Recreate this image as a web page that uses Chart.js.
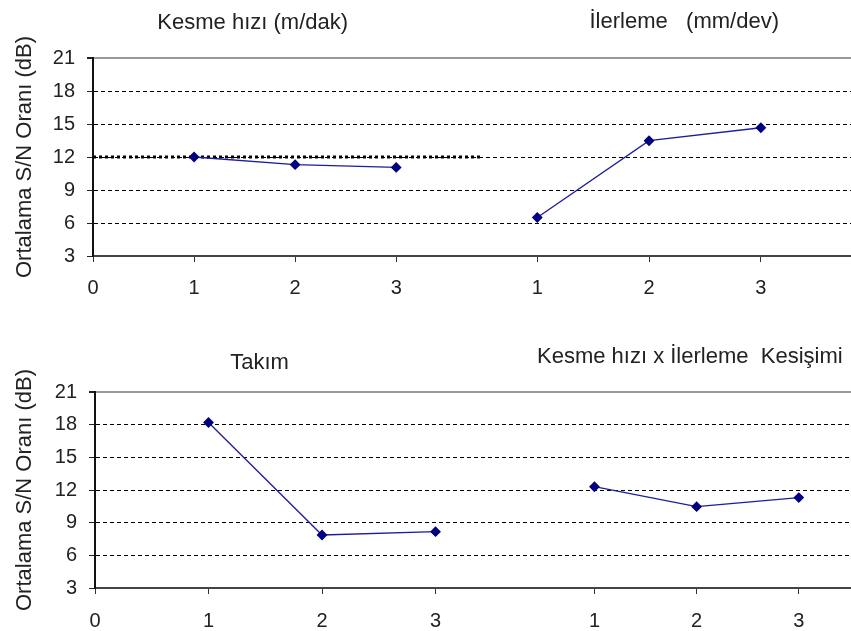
<!DOCTYPE html>
<html>
<head>
<meta charset="utf-8">
<script src="https://cdn.jsdelivr.net/npm/chart.js@4.4.1/dist/chart.umd.min.js"></script>
<style>
  html, body { margin: 0; padding: 0; background: #fff; }
  #wrap { position: relative; width: 851px; height: 631px; }
  canvas { position: absolute; left: 0; }
  #top { top: 0; }
  #bottom { top: 318px; }
</style>
</head>
<body>
<div id="wrap">
  <canvas id="top" width="851" height="318"></canvas>
  <canvas id="bottom" width="851" height="313"></canvas>
</div>
<script>
// factor levels and tick labels
const levels = [1, 2, 3];
const xTickLabels = ['0', '1', '2', '3', '1', '2', '3'];
const yTicks = [3, 6, 9, 12, 15, 18, 21];

// mean S/N ratios (dB)
const kesmeHizi = [12.0, 11.3, 11.05];
const ilerleme = [6.5, 13.48, 14.66];
const takim = [18.2, 7.87, 8.17];
const kesisim = [12.3, 10.47, 11.3];

// dotted reference at 12 dB in the top panel
const refLineX = [0, 3.83];
const refLineY = [12, 12];

const yTitle = 'Ortalama S/N Oranı (dB)';
const navy = '#000080';
const fontName = "'Liberation Sans', Arial, sans-serif";

function seriesPoints(xs, ys) {
    return xs.map((x, i) => ({ x: x, y: ys[i] }));
}

// draws the two panel titles above the plot area
const panelTitles = {
    id: 'panelTitles',
    afterDraw(chart, args, opts) {
        const ctx = chart.ctx;
        const xScale = chart.scales.x;
        ctx.save();
        ctx.fillStyle = '#222';
        ctx.font = '22px ' + fontName;
        ctx.textAlign = 'center';
        ctx.textBaseline = 'middle';
        opts.items.forEach(t => {
            ctx.fillText(t.text, xScale.getPixelForValue(t.at), t.y);
        });
        ctx.restore();
    }
};

function makePanel(canvasId, p) {
    const leftX = levels.slice();
    const rightX = levels.map(l => p.rightStart + l * p.rightStep);
    const tickPositions = [0].concat(leftX, rightX);

    const datasets = [];
    if (p.ref) {
        datasets.push({
            data: seriesPoints(refLineX, refLineY),
            borderColor: '#000',
            borderWidth: 3,
            borderDash: [3, 3],
            pointRadius: 0,
            order: 2
        });
    }
    [seriesPoints(leftX, p.left), seriesPoints(rightX, p.right)].forEach(d => {
        datasets.push({
            data: d,
            borderColor: '#1c1ca0',
            borderWidth: 1.3,
            pointStyle: 'rectRot',
            pointRadius: 4.5,
            pointBackgroundColor: navy,
            pointBorderColor: navy,
            order: 1
        });
    });

    return new Chart(document.getElementById(canvasId), {
        type: 'line',
        data: { datasets: datasets },
        plugins: [panelTitles],
        options: {
            responsive: false,
            animation: false,
            devicePixelRatio: 1,
            layout: { autoPadding: false, padding: { top: p.padTop, left: 0, right: 0, bottom: 0 } },
            plugins: {
                legend: { display: false },
                tooltip: { enabled: false },
                panelTitles: { items: p.titles }
            },
            scales: {
                x: {
                    type: 'linear',
                    min: 0,
                    max: p.xMax,
                    afterBuildTicks: scale => {
                        scale.ticks = tickPositions.map(v => ({ value: v }));
                    },
                    afterFit: scale => { scale.height = p.xHeight; },
                    ticks: {
                        autoSkip: false,
                        maxRotation: 0,
                        padding: p.xPad,
                        color: '#222',
                        font: { family: fontName, size: 20 },
                        callback: (value, index) => xTickLabels[index]
                    },
                    grid: {
                        drawOnChartArea: false,
                        drawTicks: true,
                        tickLength: 6,
                        tickColor: '#333'
                    },
                    border: { color: '#444', width: 2 }
                },
                y: {
                    min: 3,
                    max: 21,
                    afterBuildTicks: scale => {
                        scale.ticks = yTicks.map(v => ({ value: v }));
                    },
                    afterFit: scale => { scale.width = p.yWidth; },
                    ticks: {
                        padding: 12,
                        color: '#222',
                        font: { family: fontName, size: 20 }
                    },
                    grid: {
                        color: ctx => ctx.tick.value === 21 ? '#999' : (ctx.tick.value === 3 ? 'rgba(0,0,0,0)' : '#000'),
                        lineWidth: ctx => ctx.tick.value === 21 ? 2 : 1,
                        tickLength: 6,
                        tickColor: '#222',
                        tickBorderDash: []
                    },
                    border: {
                        color: '#111',
                        width: 2,
                        dash: ctx => (ctx.tick && ctx.tick.value === 21) ? [] : [4, 3]
                    },
                    title: {
                        display: true,
                        text: yTitle,
                        color: '#222',
                        font: { family: fontName, size: 22 },
                        padding: { top: 12, bottom: 0 }
                    }
                }
            }
        }
    });
}

makePanel('top', {
    left: kesmeHizi,
    right: ilerleme,
    ref: true,
    rightStart: 3.29,
    rightStep: 1.106,
    xMax: 7.5,
    padTop: 58,
    xHeight: 62,
    xPad: 14,
    yWidth: 93,
    titles: [
        { text: 'Kesme hızı (m/dak)', at: 1.58, y: 23 },
        { text: 'İlerleme   (mm/dev)', at: 5.85, y: 22 }
    ]
});

makePanel('bottom', {
    left: takim,
    right: kesisim,
    ref: false,
    rightStart: 3.5,
    rightStep: 0.9,
    xMax: 6.66,
    padTop: 74,
    xHeight: 43,
    xPad: 15,
    yWidth: 95,
    titles: [
        { text: 'Takım', at: 1.45, y: 45 },
        { text: 'Kesme hızı x İlerleme  Kesişimi', at: 5.24, y: 39 }
    ]
});
</script>
</body>
</html>
